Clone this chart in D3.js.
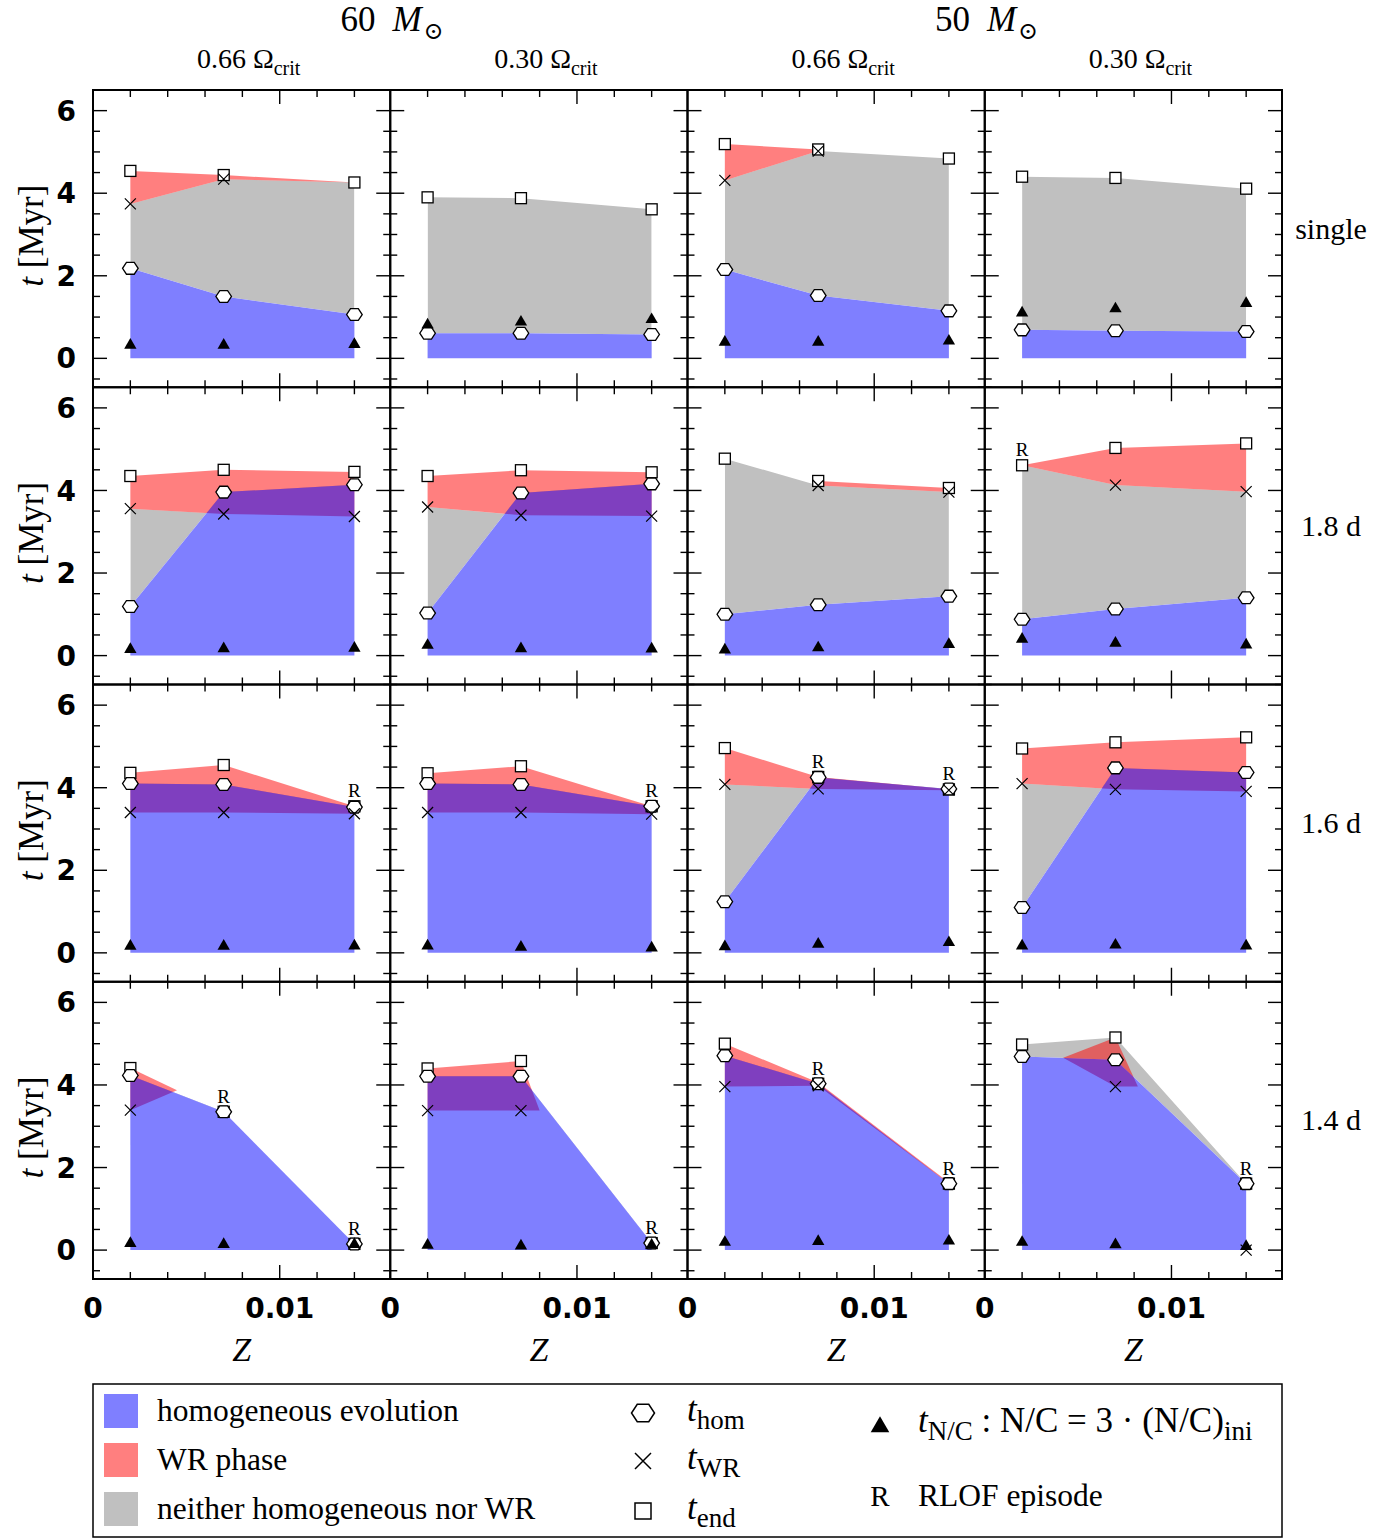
<!DOCTYPE html>
<html><head><meta charset="utf-8">
<script src="https://cdn.jsdelivr.net/npm/d3@7"></script>
<style>
body{margin:0;background:#fff}
text{font-family:"Liberation Serif","DejaVu Serif",serif;fill:#000}
.tick{font-family:"DejaVu Sans","Liberation Sans",sans-serif;font-weight:bold}
</style>
</head><body>
<svg id="c" width="1397" height="1540"></svg>
<script>
// ---------------- data ----------------
const zValues = [0.002, 0.007, 0.014];
const massLabels = ["60", "50"];
const rotLabels = ["0.66", "0.30", "0.66", "0.30"];
const rowLabels = ["single", "1.8 d", "1.6 d", "1.4 d"];
const yTickValues = [0, 2, 4, 6];
const xTickValues = [0, 0.01];
const xTickLabels = ["0", "0.01"];

// rows: single, 1.8 d, 1.6 d, 1.4 d ; columns: 60/0.66, 60/0.30, 50/0.66, 50/0.30
const tHom = [
  [[2.18,1.50,1.06],[0.61,0.61,0.58],[2.15,1.52,1.15],[0.69,0.67,0.65]],
  [[1.19,3.96,4.14],[1.03,3.94,4.16],[1.00,1.23,1.44],[0.88,1.13,1.40]],
  [[4.10,4.08,3.53],[4.10,4.08,3.55],[1.24,4.25,3.97],[1.10,4.48,4.37]],
  [[4.23,3.35,0.15],[4.21,4.21,0.17],[4.71,4.03,1.61],[4.69,4.61,1.61]]
];
const tWR = [
  [[3.74,4.34,null],[null,null,null],[4.31,5.02,null],[null,null,null]],
  [[3.56,3.43,3.37],[3.60,3.40,3.38],[null,4.12,3.96],[null,4.13,3.97]],
  [[3.40,3.40,3.37],[3.40,3.40,3.36],[4.08,3.97,3.94],[4.10,3.96,3.91]],
  [[3.39,null,null],[3.38,3.38,null],[3.96,3.98,null],[null,3.96,0.00]]
];
const tEnd = [
  [[4.54,4.44,4.26],[3.90,3.88,3.61],[5.19,5.06,4.84],[4.40,4.37,4.11]],
  [[4.35,4.50,4.45],[4.35,4.49,4.44],[4.77,4.23,4.06],[4.61,5.03,5.14]],
  [[4.36,4.55,3.55],[4.35,4.52,3.55],[4.96,4.26,3.96],[4.95,5.10,5.22]],
  [[4.41,3.35,0.15],[4.40,4.58,0.17],[5.00,4.03,1.61],[4.98,5.15,1.61]]
];
const tNC = [
  [[0.32,0.32,0.34],[0.81,0.88,0.94],[0.39,0.39,0.42],[1.10,1.20,1.33]],
  [[0.15,0.17,0.18],[0.25,0.17,0.16],[0.14,0.19,0.27],[0.40,0.30,0.26]],
  [[0.16,0.16,0.17],[0.17,0.14,0.12],[0.15,0.21,0.25],[0.17,0.19,0.17]],
  [[0.16,0.14,0.14],[0.12,0.10,0.12],[0.19,0.21,0.22],[0.19,0.13,0.09]]
];
const rlof = [
  [[0,0,0],[0,0,0],[0,0,0],[0,0,0]],
  [[0,0,0],[0,0,0],[0,0,0],[1,0,0]],
  [[0,0,1],[0,0,1],[0,1,1],[0,0,0]],
  [[0,1,1],[0,0,1],[0,1,1],[0,0,1]]
];
// upper edge of the "neither" region (lower edge is t_hom)
const grayUpper = [
  [[3.74,4.34,4.26],[3.90,3.88,3.61],[4.31,5.02,4.84],[4.40,4.37,4.11]],
  [[3.56,3.43,3.37],[3.60,3.40,3.38],[4.77,4.12,3.96],[4.61,4.13,3.97]],
  [[3.40,3.40,3.37],[3.40,3.40,3.36],[4.08,3.97,3.94],[4.10,3.96,3.91]],
  [[3.39,3.35,0.15],[3.38,3.38,0.17],[3.96,3.98,1.61],[4.98,5.15,1.61]]
];
// WR phase bands: [Z, lower, upper]
const wrBands = [
  [ [[0.002,3.74,4.54],[0.007,4.34,4.44],[0.014,4.26,4.26]],
    [],
    [[0.002,4.31,5.19],[0.007,5.02,5.06]],
    [] ],
  [ [[0.002,3.56,4.35],[0.007,3.43,4.50],[0.014,3.37,4.45]],
    [[0.002,3.60,4.35],[0.007,3.40,4.49],[0.014,3.38,4.44]],
    [[0.007,4.12,4.23],[0.014,3.96,4.06]],
    [[0.002,4.61,4.61],[0.007,4.13,5.03],[0.014,3.97,5.14]] ],
  [ [[0.002,3.40,4.36],[0.007,3.40,4.55],[0.014,3.37,3.55]],
    [[0.002,3.40,4.35],[0.007,3.40,4.52],[0.014,3.36,3.55]],
    [[0.002,4.08,4.96],[0.007,3.97,4.26],[0.014,3.94,3.96]],
    [[0.002,4.10,4.95],[0.007,3.96,5.10],[0.014,3.91,5.22]] ],
  [ [[0.002,3.39,4.41],[0.0045,3.87,3.87]],
    [[0.002,3.38,4.40],[0.007,3.38,4.58],[0.008,3.38,3.38]],
    [[0.002,3.96,5.00],[0.007,3.98,4.06],[0.014,1.61,1.64]],
    [[0.0042,4.66,4.66],[0.007,3.96,5.15],[0.0082,3.96,3.96]] ]
];

// ---------------- layout ----------------
const svg = d3.select("#c");
const left0 = 93, top0 = 90, pw = 297.25, ph = 297.25;
const xDomain = [0, 0.01592], yDomain = [-0.7, 6.5];
const BLUE = "#0000ff", RED = "#ff0000", GRAY = "#c0c0c0";

function hexPath(cx, cy, r) {
  const pts = d3.range(6).map(i => {
    const a = Math.PI / 3 * i;
    return [cx + r * Math.cos(a), cy + r * 0.87 * Math.sin(a)];
  });
  return "M" + pts.map(p => p.join(",")).join("L") + "Z";
}

const defs = svg.append("defs");

for (let r = 0; r < 4; r++) {
  for (let c = 0; c < 4; c++) {
    const L = left0 + c * pw, T = top0 + r * ph;
    const x = d3.scaleLinear().domain(xDomain).range([L, L + pw]);
    const y = d3.scaleLinear().domain(yDomain).range([T + ph, T]);
    const g = svg.append("g");
    const hom = tHom[r][c], wr = tWR[r][c], end = tEnd[r][c], nc = tNC[r][c];
    const homPts = zValues.map((z, i) => ({z, v: hom[i], u: grayUpper[r][c][i]}));

    // clip: region above t_hom
    const cid = `clip${r}${c}`;
    defs.append("clipPath").attr("id", cid).append("path")
      .attr("d", d3.area().x(d => x(d.z)).y0(d => y(d.v)).y1(() => y(yDomain[1]))(homPts));

    // neither homogeneous nor WR
    g.append("path")
      .attr("clip-path", `url(#${cid})`)
      .attr("fill", GRAY)
      .attr("d", d3.area().x(d => x(d.z)).y0(d => y(d.v)).y1(d => y(d.u))(homPts));

    // WR phase
    const band = wrBands[r][c];
    if (band.length) {
      g.append("path").attr("fill", RED).attr("fill-opacity", 0.5)
        .attr("d", d3.area().x(d => x(d[0])).y0(d => y(d[1])).y1(d => y(d[2]))(band));
    }
    // homogeneous evolution
    g.append("path").attr("fill", BLUE).attr("fill-opacity", 0.5)
      .attr("d", d3.area().x(d => x(d.z)).y0(() => y(0)).y1(d => y(d.v))(homPts));

    // ticks (inward, all sides)
    const xMinor = d3.range(0.002, 0.0155, 0.002);
    const yMinor = d3.range(-0.5, 6.51, 0.5);
    const tk = g.append("g").attr("stroke", "#000").attr("stroke-width", 1.4);
    xMinor.forEach(v => {
      const major = Math.abs(v - 0.01) < 1e-9;
      const len = major ? 14 : 7;
      tk.append("line").attr("x1", x(v)).attr("x2", x(v)).attr("y1", T + ph).attr("y2", T + ph - len);
      tk.append("line").attr("x1", x(v)).attr("x2", x(v)).attr("y1", T).attr("y2", T + len);
    });
    yMinor.forEach(v => {
      const major = Math.abs(v % 2) < 1e-9;
      const len = major ? 14 : 7;
      tk.append("line").attr("y1", y(v)).attr("y2", y(v)).attr("x1", L).attr("x2", L + len);
      tk.append("line").attr("y1", y(v)).attr("y2", y(v)).attr("x1", L + pw).attr("x2", L + pw - len);
    });

    // markers
    const mk = g.append("g");
    zValues.forEach((z, i) => {
      const s = 11;
      mk.append("rect").attr("x", x(z) - s / 2).attr("y", y(end[i]) - s / 2)
        .attr("width", s).attr("height", s).attr("fill", "#fff").attr("stroke", "#000").attr("stroke-width", 1.3);
    });
    zValues.forEach((z, i) => {
      mk.append("path").attr("d", hexPath(x(z), y(hom[i]), 7.8))
        .attr("fill", "#fff").attr("stroke", "#000").attr("stroke-width", 1.3);
    });
    zValues.forEach((z, i) => {
      if (wr[i] === null) return;
      const cx = x(z), cy = y(wr[i]), h = 5.5;
      mk.append("path").attr("d", `M${cx-h},${cy-h}L${cx+h},${cy+h}M${cx-h},${cy+h}L${cx+h},${cy-h}`)
        .attr("stroke", "#000").attr("stroke-width", 1.2).attr("fill", "none");
    });
    zValues.forEach((z, i) => {
      mk.append("path").attr("d", d3.symbol(d3.symbolTriangle, 66)())
        .attr("transform", `translate(${x(z)},${y(nc[i])})`).attr("fill", "#000");
      if (rlof[r][c][i]) {
        const top = Math.max(end[i], hom[i]);
        mk.append("text").attr("x", x(z)).attr("y", y(top) - 9)
          .attr("text-anchor", "middle").attr("font-size", 19).text("R");
      }
    });

    // frame
    g.append("rect").attr("x", L).attr("y", T).attr("width", pw).attr("height", ph)
      .attr("fill", "none").attr("stroke", "#000").attr("stroke-width", 2);

    // y tick labels
    if (c === 0) {
      yTickValues.forEach(v => {
        svg.append("text").attr("class", "tick").attr("x", L - 17).attr("y", y(v))
          .attr("dy", "0.36em").attr("text-anchor", "end").attr("font-size", 28).text(v);
      });
      const ty = svg.append("text").attr("transform", `translate(43,${T + ph / 2 - 3}) rotate(-90)`)
        .attr("text-anchor", "middle").attr("font-size", 35);
      ty.append("tspan").attr("font-style", "italic").text("t");
      ty.append("tspan").text(" [Myr]");
    }
    if (r === 3) {
      xTickValues.forEach((v, k) => {
        svg.append("text").attr("class", "tick").attr("x", x(v)).attr("y", T + ph + 39)
          .attr("text-anchor", "middle").attr("font-size", 28).text(xTickLabels[k]);
      });
      svg.append("text").attr("x", L + pw / 2).attr("y", T + ph + 82)
        .attr("text-anchor", "middle").attr("font-size", 34).attr("font-style", "italic").text("Z");
    }
    if (r === 0) {
      const t = svg.append("text").attr("x", L + pw / 2 + 7).attr("y", 68)
        .attr("text-anchor", "middle").attr("font-size", 28);
      t.append("tspan").text(rotLabels[c] + " Ω");
      t.append("tspan").attr("font-size", 20).attr("dy", 7).text("crit");
    }
    if (c === 3) {
      svg.append("text").attr("x", 1331).attr("y", T + ph / 2 - 9).attr("dy", "0.3em")
        .attr("text-anchor", "middle").attr("font-size", 30).text(rowLabels[r]);
    }
  }
}
// mass titles
massLabels.forEach((m, k) => {
  const t = svg.append("text").attr("x", left0 + pw * (1 + 2 * k) + 2).attr("y", 31)
    .attr("text-anchor", "middle").attr("font-size", 35);
  t.append("tspan").text(m);
  t.append("tspan").attr("font-style", "italic").attr("dx", 17).text("M");
  t.append("tspan").attr("font-size", 24).attr("dy", 8).attr("dx", 2).text("⊙");
});

// ---------------- legend ----------------
const lg = svg.append("g");
lg.append("rect").attr("x", 93).attr("y", 1384).attr("width", 1189).attr("height", 153)
  .attr("fill", "#fff").attr("stroke", "#000").attr("stroke-width", 1.5);
const legendItems = [
  {label: "homogeneous evolution", fill: BLUE, op: 0.5},
  {label: "WR phase", fill: RED, op: 0.5},
  {label: "neither homogeneous nor WR", fill: GRAY, op: 1}
];
legendItems.forEach((d, i) => {
  const yy = 1394 + i * 49;
  lg.append("rect").attr("x", 104).attr("y", yy).attr("width", 34).attr("height", 34)
    .attr("fill", d.fill).attr("fill-opacity", d.op);
  lg.append("text").attr("x", 157).attr("y", yy + 27).attr("font-size", 31.5).text(d.label);
});
// marker legend
lg.append("path").attr("d", hexPath(643, 1413, 11.5)).attr("fill", "#fff").attr("stroke", "#000").attr("stroke-width", 1.5);
lg.append("path").attr("d", "M635,1453L651,1469M635,1469L651,1453").attr("stroke", "#000").attr("stroke-width", 1.5);
lg.append("rect").attr("x", 635).attr("y", 1503).attr("width", 16).attr("height", 16).attr("fill", "#fff").attr("stroke", "#000").attr("stroke-width", 1.5);
const subLabels = [["hom", 1421], ["WR", 1469], ["end", 1519]];
subLabels.forEach(([s, yy]) => {
  const t = lg.append("text").attr("x", 687).attr("y", yy).attr("font-size", 35);
  t.append("tspan").attr("font-style", "italic").text("t");
  t.append("tspan").attr("font-size", 27).attr("dy", 8).text(s);
});
lg.append("path").attr("d", d3.symbol(d3.symbolTriangle, 150)()).attr("transform", "translate(880,1427)").attr("fill", "#000");
const tn = lg.append("text").attr("x", 918).attr("y", 1432).attr("font-size", 35);
tn.append("tspan").attr("font-style", "italic").text("t");
tn.append("tspan").attr("font-size", 27).attr("dy", 8).text("N/C");
tn.append("tspan").attr("dy", -8).text(" : N/C = 3 · (N/C)");
tn.append("tspan").attr("font-size", 27).attr("dy", 8).text("ini");
lg.append("text").attr("x", 880).attr("y", 1506).attr("text-anchor", "middle").attr("font-size", 29).text("R");
lg.append("text").attr("x", 918).attr("y", 1506).attr("font-size", 31.5).text("RLOF episode");
</script>
</body></html>
